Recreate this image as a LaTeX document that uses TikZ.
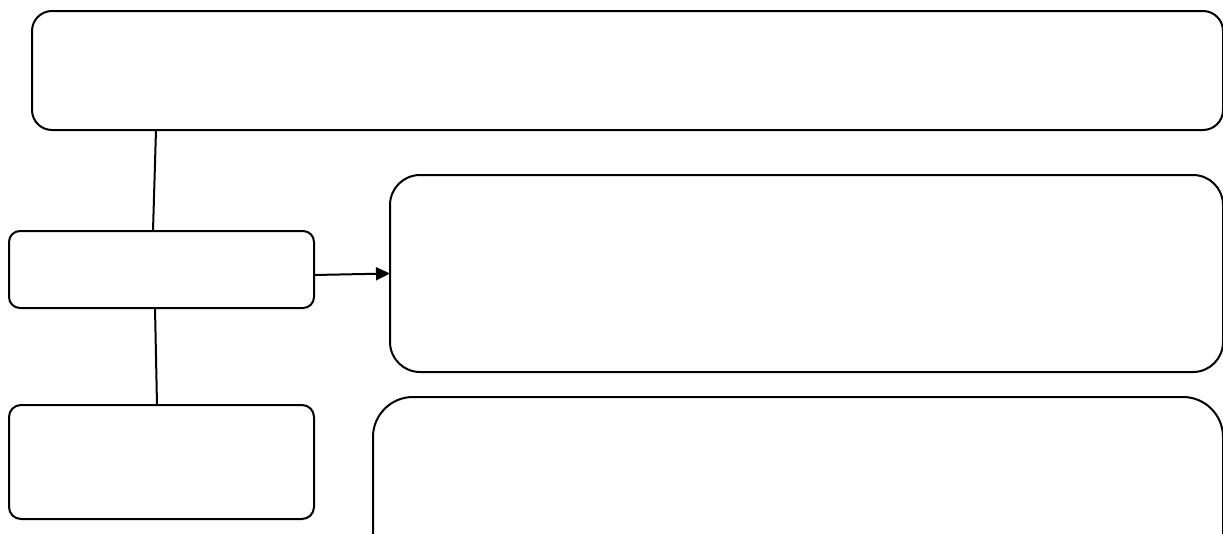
\documentclass[tikz,border=0pt]{standalone}
\usetikzlibrary{arrows.meta,calc}
\begin{document}
\begin{tikzpicture}[x=1pt,y=-1pt,
  box/.style={draw=black,line width=2pt,fill=white,rectangle,inner sep=0pt,outer sep=0pt},
  conn/.style={draw=black,line width=2pt},
  arr/.style={conn,-{Triangle[length=14pt,width=13pt]}}]
\useasboundingbox (0,0) rectangle (1223,533);
\clip (0,0) rectangle (1223,533);
\fill[white] (0,0) rectangle (1223,533);
\node[box,rounded corners=20pt,minimum width=1191pt,minimum height=119pt] (top) at (627.5,70.5) {};
\node[box,rounded corners=11pt,minimum width=305pt,minimum height=77pt] (midl) at (161.5,269.5) {};
\node[box,rounded corners=12pt,minimum width=305pt,minimum height=114pt] (botl) at (161.5,462) {};
\node[box,rounded corners=30pt,minimum width=833pt,minimum height=197pt] (rmid) at (806.5,273.5) {};
\node[box,rounded corners=40pt,minimum width=850pt,minimum height=243pt] (rbot) at (798,518.5) {};
\draw[conn] ($(top.south west)+(124,0)$) -- ($(midl.north west)+(144,0)$);
\draw[conn] ($(midl.south west)+(146,0)$) -- ($(botl.north west)+(148,0)$);
\draw[arr] ([yshift=-5.5pt]midl.east) -- (rmid.west);
\end{tikzpicture}
\end{document}
